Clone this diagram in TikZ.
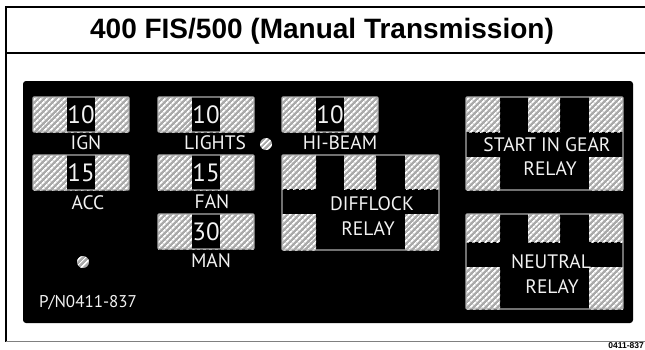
\documentclass[tikz,border=0pt]{standalone}
\usepackage{fontspec}
\setmainfont{PT Sans}
\newfontfamily\titlefont{Liberation Sans}
\usetikzlibrary{patterns.meta}
\definecolor{hatchgray}{RGB}{170,170,170}
\definecolor{rimgray}{RGB}{175,175,175}
\definecolor{inkwhite}{RGB}{242,242,242}

% fuse: left x, top y, number, node name
\newcommand{\fusebox}[4]{%
  \fill[hatch] (#1,#2) rectangle ++(96,35);
  \fill[black] (#1+34,#2) rectangle ++(28,35);
  \draw[rim] (#1,#2) rectangle ++(96,35);
  \node[num] (#4) at (#1+48,#2+17.5) {#3};}

% relay: left x, top y, top row height, bottom row height
\newcommand{\relaybox}[4]{%
  \fill[black] (#1,#2) rectangle ++(157,#3+#4+25);
  \fill[hatch] (#1,#2) rectangle ++(34,#3);
  \fill[hatch] (#1+62,#2) rectangle ++(32,#3);
  \fill[hatch] (#1+123,#2) rectangle ++(34,#3);
  \fill[hatch] (#1,#2+#3+25) rectangle ++(34,#4);
  \fill[hatch] (#1+123,#2+#3+25) rectangle ++(34,#4);
  \draw[rim] (#1,#2) rectangle ++(157,#3+#4+25);}

\begin{document}
\begin{tikzpicture}[x=1pt,y=-1pt,
  hatch/.style={fill=hatchgray,postaction={pattern={Lines[angle=45,distance=4pt,line width=1.8pt]},pattern color=white}},
  rim/.style={draw=rimgray,line width=1.2pt,rounded corners=1pt},
  lbl/.style={text=inkwhite,font=\fontsize{19.5}{19.5}\selectfont,inner sep=0pt},
  num/.style={text=inkwhite,font=\fontsize{25}{25}\selectfont,inner sep=0pt}]
\useasboundingbox (0,0) rectangle (645,349);

	% frame and title
	\draw[line width=1.2pt] (650,7)--(6,7)--(6,341.5);
	\draw[line width=1.2pt] (6,53)--(650,53);
	\draw[line width=1.6pt,gray] (6,341.5)--(650,341.5);
	\node[font=\titlefont\bfseries\fontsize{28}{28}\selectfont,inner sep=0pt] (title) at (322,31) {400 FIS/500 (Manual Transmission)};
	\node[font=\titlefont\bfseries\fontsize{8.5}{8.5}\selectfont,anchor=base east,inner sep=0pt] (partno) at (644,348.6) {0411-837};

	% panel
	\fill[black,rounded corners=3pt] (23,81) rectangle (633,323);

	% fuses
	\fusebox{33}{97}{10}{ign}
	\fusebox{33}{155}{15}{acc}
	\fusebox{158}{97}{10}{lights}
	\fusebox{158}{155}{15}{fan}
	\fusebox{158}{214}{30}{man}
	\fusebox{282}{97}{10}{hibeam}

	\node[lbl] (ign-l) at (86,143) {IGN};
	\node[lbl] (acc-l) at (88,203) {ACC};
	\node[lbl] (lights-l) at (215,143) {LIGHTS};
	\node[lbl] (fan-l) at (212,202) {FAN};
	\node[lbl] (man-l) at (211,261) {MAN};
	\node[lbl] (hibeam-l) at (340,143) {HI-BEAM};

	% relays
	\relaybox{282}{155}{34}{36}
	\relaybox{466}{97}{35}{33}
	\relaybox{466}{214}{28}{42}

	\node[lbl] (diff-a) at (372,204) {DIFFLOCK};
	\node[lbl] (diff-b) at (368,229) {RELAY};
	\node[lbl] (start-a) at (547,145) {START IN GEAR};
	\node[lbl] (start-b) at (550,169) {RELAY};
	\node[lbl] (neut-a) at (551,262) {NEUTRAL};
	\node[lbl] (neut-b) at (552,287) {RELAY};

	% screws and part number
	\fill[hatch] (83,262) circle[radius=6];
	\fill[hatch] (266,144) circle[radius=6];
	\node[lbl,font=\fontsize{17}{17}\selectfont] (pn) at (88,303) {P/N0411-837};
\end{tikzpicture}
\end{document}
